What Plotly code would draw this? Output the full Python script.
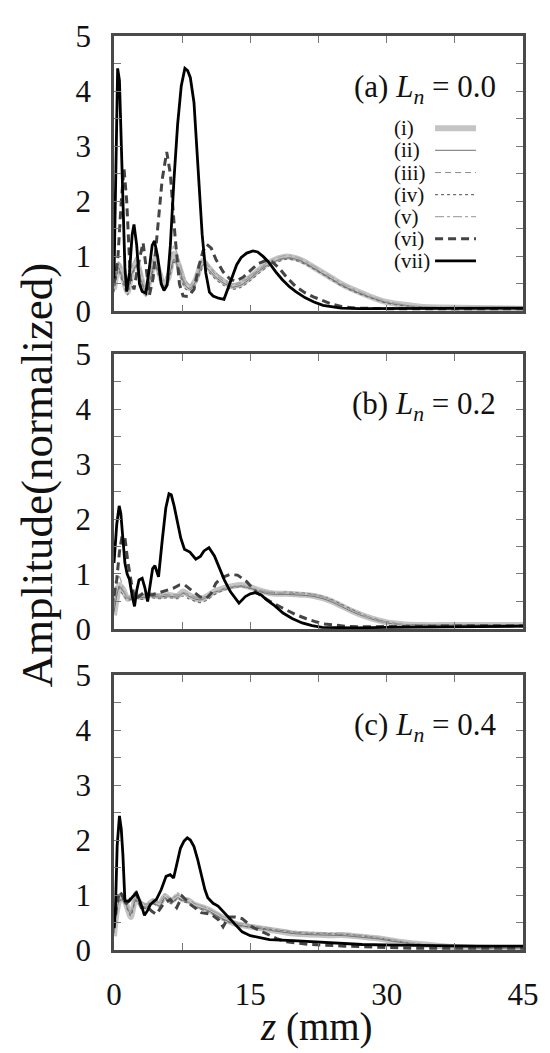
import plotly.graph_objects as go

# ---------------- data ----------------
# panel (a) L_n = 0.0
zA_g = [0, 0.5, 1, 1.5, 2, 2.5, 3, 3.5, 4, 4.5, 5, 5.5, 6, 6.6, 7.2, 7.8, 8.4, 9, 9.8, 10.5, 11.2, 12, 13, 14, 15, 16,
        17, 18, 19, 20, 21, 22, 23, 24, 25, 26, 27, 28, 29, 30, 31, 32, 33, 34, 36, 40, 45]
A1 = [0.40, 0.85, 0.60, 0.35, 0.75, 0.90, 0.60, 0.32, 0.62, 0.95, 0.70, 0.45, 0.62, 1.05, 0.80, 0.50, 0.42, 0.58, 0.92,
      0.78, 0.65, 0.55, 0.46, 0.50, 0.62, 0.76, 0.88, 0.96, 1.00, 0.97, 0.90, 0.80, 0.70, 0.60, 0.50, 0.42, 0.35, 0.28,
      0.22, 0.17, 0.14, 0.12, 0.10, 0.08, 0.07, 0.06, 0.05]
A2 = [0.45, 0.80, 0.55, 0.38, 0.70, 0.85, 0.55, 0.35, 0.60, 0.88, 0.66, 0.42, 0.58, 0.95, 0.75, 0.48, 0.40, 0.55, 0.85,
      0.74, 0.62, 0.52, 0.44, 0.48, 0.60, 0.74, 0.85, 0.93, 0.97, 0.95, 0.88, 0.78, 0.68, 0.58, 0.48, 0.40, 0.33, 0.27,
      0.21, 0.16, 0.13, 0.11, 0.09, 0.08, 0.07, 0.06, 0.05]
A3 = [0.50, 0.78, 0.62, 0.40, 0.72, 0.82, 0.58, 0.38, 0.64, 0.85, 0.68, 0.46, 0.60, 0.92, 0.78, 0.52, 0.43, 0.57, 0.88,
      0.80, 0.66, 0.56, 0.47, 0.52, 0.63, 0.77, 0.87, 0.94, 0.98, 0.96, 0.89, 0.79, 0.69, 0.59, 0.49, 0.41, 0.34, 0.27,
      0.21, 0.16, 0.13, 0.11, 0.09, 0.08, 0.07, 0.06, 0.05]
A4 = [0.35, 0.75, 0.50, 0.30, 0.68, 0.80, 0.50, 0.28, 0.55, 0.85, 0.60, 0.38, 0.55, 0.90, 0.70, 0.42, 0.36, 0.50, 0.80,
      0.70, 0.58, 0.48, 0.40, 0.44, 0.56, 0.70, 0.82, 0.90, 0.95, 0.93, 0.86, 0.77, 0.67, 0.57, 0.47, 0.39, 0.32, 0.26,
      0.20, 0.15, 0.12, 0.10, 0.09, 0.07, 0.06, 0.05, 0.04]
A5 = [0.55, 0.90, 0.70, 0.45, 0.80, 1.00, 0.72, 0.42, 0.70, 1.05, 0.80, 0.55, 0.75, 1.20, 0.90, 0.58, 0.48, 0.62, 0.95,
      0.82, 0.70, 0.60, 0.50, 0.54, 0.65, 0.78, 0.90, 0.98, 1.02, 0.99, 0.92, 0.82, 0.72, 0.62, 0.52, 0.44, 0.36, 0.29,
      0.23, 0.18, 0.15, 0.12, 0.10, 0.09, 0.08, 0.07, 0.06]
zA6 = [0, 0.4, 0.8, 1.1, 1.4, 1.8, 2.2, 2.6, 3.2, 3.6, 3.9, 4.3, 4.8, 5.3, 5.8, 6.2, 6.7, 7.2, 7.6, 8.2, 8.8, 9.3, 9.8,
       10.2, 10.7, 11.2, 12.0, 12.8, 13.4, 14.2, 15.0, 15.8, 16.6, 17.4, 18.2, 19.0, 20.0, 21.0, 22.0, 23.0, 24.0, 25.0,
       26.5, 30, 35, 40, 45]
A6 = [0.50, 0.90, 2.00, 2.60, 2.00, 0.60, 0.40, 0.80, 1.25, 0.70, 0.30, 0.60, 1.50, 2.40, 2.90, 2.50, 1.40, 0.50, 0.28,
      0.27, 0.40, 0.80, 1.10, 1.22, 1.15, 0.95, 0.72, 0.58, 0.55, 0.62, 0.74, 0.86, 0.92, 0.90, 0.78, 0.62, 0.45, 0.34,
      0.26, 0.19, 0.13, 0.09, 0.06, 0.05, 0.05, 0.05, 0.05]
zA7 = [0, 0.2, 0.4, 0.6, 0.9, 1.2, 1.4, 1.7, 2.0, 2.2, 2.5, 2.8, 3.1, 3.5, 3.9, 4.2, 4.45, 4.8, 5.2, 5.5, 5.85, 6.2,
       6.6, 7.0, 7.4, 7.8, 8.1, 8.4, 8.8, 9.3, 9.7, 10.1, 10.5, 10.9, 11.5, 12.1, 12.5, 13.0, 13.5, 14.0, 14.6, 15.3,
       15.8, 16.4, 17.0, 17.8, 18.5, 19.3, 20.0, 21.0, 22.0, 23.0, 24.0, 25.0, 27.0, 30.0, 35.0, 40.0, 45.0]
A7 = [0.60, 3.00, 4.42, 4.20, 2.50, 0.80, 0.36, 0.70, 1.40, 1.58, 1.20, 0.50, 0.36, 0.33, 0.80, 1.20, 1.28, 1.00, 0.50,
      0.38, 0.48, 1.20, 2.40, 3.40, 4.10, 4.42, 4.38, 4.25, 3.80, 2.40, 1.40, 0.70, 0.35, 0.28, 0.24, 0.22, 0.40, 0.65,
      0.85, 0.98, 1.06, 1.10, 1.08, 1.00, 0.90, 0.72, 0.58, 0.45, 0.36, 0.25, 0.17, 0.11, 0.08, 0.06, 0.05, 0.05, 0.06,
      0.06, 0.06]

# panel (b) L_n = 0.2
zB_g = [0, 0.3, 0.6, 1.0, 1.5, 2.0, 2.5, 3.0, 3.5, 4.0, 5.0, 6.0, 7.0, 7.6, 8.2, 9.0, 9.6, 10.3, 11.0, 12.0, 13.0, 14.0,
        15.0, 16.0, 17.0, 18.0, 19.0, 20.0, 21.0, 22.0, 23.0, 24.0, 25.0, 26.0, 27.0, 28.0, 29.0, 30.0, 31.0, 32.0,
        34.0, 36.0, 40.0, 45.0]
B1 = [0.25, 0.55, 0.80, 0.72, 0.55, 0.58, 0.60, 0.58, 0.60, 0.62, 0.60, 0.62, 0.60, 0.68, 0.62, 0.55, 0.55, 0.60, 0.68,
      0.74, 0.78, 0.80, 0.76, 0.70, 0.66, 0.64, 0.64, 0.63, 0.62, 0.60, 0.56, 0.50, 0.42, 0.34, 0.27, 0.21, 0.16, 0.12,
      0.10, 0.08, 0.07, 0.07, 0.07, 0.07]
B2 = [0.30, 0.60, 0.78, 0.70, 0.56, 0.57, 0.58, 0.57, 0.58, 0.60, 0.58, 0.60, 0.58, 0.65, 0.60, 0.54, 0.53, 0.58, 0.66,
      0.72, 0.76, 0.78, 0.74, 0.68, 0.64, 0.63, 0.63, 0.62, 0.61, 0.59, 0.55, 0.49, 0.41, 0.33, 0.26, 0.20, 0.15, 0.11,
      0.09, 0.08, 0.07, 0.07, 0.07, 0.07]
B3 = [0.40, 0.65, 0.76, 0.68, 0.58, 0.60, 0.62, 0.60, 0.62, 0.64, 0.62, 0.63, 0.62, 0.66, 0.63, 0.58, 0.57, 0.60, 0.67,
      0.73, 0.77, 0.79, 0.75, 0.70, 0.67, 0.65, 0.65, 0.64, 0.64, 0.62, 0.58, 0.52, 0.44, 0.36, 0.29, 0.22, 0.17, 0.13,
      0.10, 0.08, 0.07, 0.07, 0.07, 0.07]
B4 = [0.50, 0.85, 0.72, 0.62, 0.52, 0.55, 0.56, 0.54, 0.55, 0.57, 0.55, 0.57, 0.55, 0.60, 0.55, 0.50, 0.48, 0.53, 0.62,
      0.70, 0.75, 0.77, 0.74, 0.70, 0.67, 0.66, 0.67, 0.66, 0.65, 0.63, 0.59, 0.53, 0.45, 0.37, 0.29, 0.22, 0.17, 0.13,
      0.10, 0.08, 0.07, 0.07, 0.07, 0.07]
B5 = [0.60, 0.90, 0.95, 0.75, 0.58, 0.60, 0.62, 0.60, 0.61, 0.63, 0.61, 0.62, 0.61, 0.66, 0.61, 0.56, 0.55, 0.59, 0.66,
      0.72, 0.77, 0.79, 0.76, 0.71, 0.68, 0.66, 0.66, 0.65, 0.64, 0.62, 0.58, 0.51, 0.43, 0.35, 0.28, 0.21, 0.16, 0.12,
      0.10, 0.08, 0.07, 0.07, 0.07, 0.07]
zB6 = [0, 0.3, 0.6, 0.9, 1.2, 1.5, 1.9, 2.3, 2.8, 3.2, 4.2, 5.0, 5.7, 6.5, 7.2, 7.8, 8.4, 8.9, 9.5, 10.2, 10.7, 11.2,
       11.8, 12.7, 13.6, 14.6, 15.7, 16.6, 17.5, 18.8, 20.0, 21.1, 22.2, 23.2, 24.3, 25.5, 27, 30, 35, 40, 45]
B6 = [0.60, 0.90, 1.40, 1.70, 1.66, 1.25, 0.85, 0.53, 0.60, 0.65, 0.62, 0.66, 0.70, 0.74, 0.80, 0.80, 0.72, 0.66, 0.58,
      0.56, 0.65, 0.83, 0.93, 0.99, 0.98, 0.86, 0.66, 0.56, 0.47, 0.36, 0.26, 0.19, 0.13, 0.09, 0.07, 0.05, 0.04, 0.04,
      0.05, 0.06, 0.06]
zB7 = [0, 0.3, 0.57, 0.75, 1.0, 1.2, 1.45, 1.7, 2.0, 2.26, 2.5, 2.75, 3.1, 3.4, 3.7, 4.0, 4.25, 4.5, 4.9, 5.3, 5.7,
       6.05, 6.3, 6.6, 6.95, 7.35, 7.75, 8.35, 9.0, 9.5, 9.9, 10.45, 11.05, 11.6, 12.15, 12.8, 13.75, 14.45, 15.0,
       15.55, 16.2, 16.8, 17.7, 18.6, 19.6, 20.7, 21.8, 22.9, 24.5, 26.5, 30, 35, 40, 45]
B7 = [1.20, 1.90, 2.24, 2.10, 1.60, 1.20, 1.00, 0.90, 0.60, 0.41, 0.70, 0.89, 0.92, 0.75, 0.50, 0.80, 1.10, 1.15, 0.95,
      1.60, 2.20, 2.46, 2.44, 2.25, 1.96, 1.65, 1.45, 1.40, 1.27, 1.32, 1.42, 1.48, 1.33, 1.10, 0.89, 0.68, 0.47, 0.59,
      0.64, 0.66, 0.62, 0.53, 0.42, 0.29, 0.19, 0.11, 0.06, 0.03, 0.02, 0.02, 0.03, 0.04, 0.05, 0.05]

# panel (c) L_n = 0.4
zC_g = [0, 0.3, 0.7, 1.2, 1.85, 2.4, 3.0, 3.6, 4.3, 5.0, 5.6, 6.3, 7.0, 7.6, 8.2, 8.8, 10.3, 11.8, 13.3, 14.8, 17.1,
        19.7, 21.5, 23.5, 25.4, 27.3, 29.2, 31.0, 32.9, 34.8, 36.7, 40, 45]
C1 = [0.25, 0.70, 0.95, 0.89, 0.60, 0.95, 0.83, 0.80, 0.89, 0.83, 0.98, 0.89, 0.98, 0.92, 0.90, 0.83, 0.74, 0.60, 0.48,
      0.43, 0.37, 0.30, 0.28, 0.27, 0.27, 0.24, 0.21, 0.16, 0.12, 0.09, 0.06, 0.04, 0.03]
C2 = [0.30, 0.75, 0.92, 0.86, 0.65, 0.92, 0.80, 0.78, 0.86, 0.80, 0.95, 0.86, 0.95, 0.90, 0.87, 0.80, 0.72, 0.58, 0.47,
      0.42, 0.36, 0.30, 0.28, 0.27, 0.26, 0.23, 0.20, 0.15, 0.11, 0.08, 0.06, 0.04, 0.03]
C3 = [0.40, 0.85, 0.98, 0.90, 0.70, 0.98, 0.86, 0.82, 0.90, 0.85, 1.00, 0.90, 1.00, 0.94, 0.92, 0.85, 0.76, 0.62, 0.50,
      0.45, 0.39, 0.32, 0.30, 0.29, 0.28, 0.25, 0.22, 0.17, 0.12, 0.09, 0.06, 0.04, 0.03]
C4 = [0.50, 0.90, 0.90, 0.84, 0.62, 0.90, 0.78, 0.75, 0.84, 0.78, 0.94, 0.84, 0.94, 0.88, 0.85, 0.78, 0.70, 0.57, 0.46,
      0.42, 0.38, 0.33, 0.31, 0.30, 0.29, 0.26, 0.22, 0.17, 0.12, 0.09, 0.06, 0.04, 0.03]
C5 = [0.60, 0.95, 1.00, 0.92, 0.68, 1.00, 0.88, 0.84, 0.92, 0.86, 1.02, 0.92, 1.04, 0.95, 0.93, 0.86, 0.76, 0.63, 0.51,
      0.46, 0.40, 0.34, 0.32, 0.31, 0.30, 0.27, 0.23, 0.18, 0.13, 0.10, 0.07, 0.05, 0.04]
zC6 = [0, 0.3, 0.6, 0.9, 1.28, 1.8, 2.4, 3.0, 3.73, 4.2, 4.67, 5.4, 6.2, 6.9, 7.5, 8.4, 9.6, 10.7, 11.5, 12.0, 12.6,
       13.3, 14.1, 15.2, 16.2, 17.1, 18.0, 19.0, 20.3, 21.6, 25.4, 29.2, 33, 38, 45]
C6 = [0.40, 0.80, 1.07, 1.00, 0.83, 0.92, 1.04, 0.77, 0.77, 0.70, 0.65, 0.83, 0.92, 0.77, 0.98, 0.83, 0.68, 0.65, 0.55,
      0.42, 0.60, 0.60, 0.57, 0.42, 0.34, 0.27, 0.20, 0.15, 0.12, 0.10, 0.07, 0.05, 0.03, 0.03, 0.03]
zC7 = [0, 0.15, 0.35, 0.6, 0.8, 0.98, 1.2, 1.66, 2.1, 2.49, 2.98, 3.35, 3.7, 4.0, 4.67, 5.2, 5.73, 6.18, 6.56, 6.9,
       7.31, 7.7, 8.06, 8.4, 8.8, 9.2, 9.57, 10.0, 10.32, 10.9, 11.45, 12.0, 12.58, 13.3, 14.1, 15.0, 15.6, 17.1, 19.7,
       23.5, 27.3, 31, 34.8, 40, 45]
C7 = [0.40, 0.70, 1.90, 2.44, 2.20, 1.73, 0.89, 0.89, 0.98, 1.04, 0.83, 0.63, 0.72, 0.83, 0.92, 1.10, 1.34, 1.37, 1.31,
      1.55, 1.85, 1.98, 2.04, 2.00, 1.88, 1.65, 1.37, 1.10, 0.95, 0.85, 0.80, 0.70, 0.60, 0.46, 0.33, 0.26, 0.24, 0.19,
      0.17, 0.13, 0.10, 0.09, 0.08, 0.07, 0.07]

series_names = ["(i)", "(ii)", "(iii)", "(iv)", "(v)", "(vi)", "(vii)"]
panel_labels = ["(a) <i>L</i><sub><i>n</i></sub> = 0.0",
                "(b) <i>L</i><sub><i>n</i></sub> = 0.2",
                "(c) <i>L</i><sub><i>n</i></sub> = 0.4"]

panels = [
    ([zA_g] * 5 + [zA6, zA7], [A1, A2, A3, A4, A5, A6, A7]),
    ([zB_g] * 5 + [zB6, zB7], [B1, B2, B3, B4, B5, B6, B7]),
    ([zC_g] * 5 + [zC6, zC7], [C1, C2, C3, C4, C5, C6, C7]),
]

# ---------------- styles ----------------
styles = [
    dict(color="#c4c4c4", width=6, dash="solid"),
    dict(color="#6e6e6e", width=1, dash="solid"),
    dict(color="#8a8a8a", width=1, dash="6px,4px"),
    dict(color="#707070", width=1.2, dash="dot"),
    dict(color="#a8a8a8", width=1.3, dash="dashdot"),
    dict(color="#444444", width=3, dash="8px,5px"),
    dict(color="#000000", width=2.8, dash="solid"),
]
FONT = "Liberation Serif"

# the page body has an 8px default margin, so the figure is shrunk by that
# amount and all target positions below are given in page pixels
OFF = 8
PAGE_W, PAGE_H = 550, 1053
W, H = PAGE_W - OFF, PAGE_H - OFF
LEFT, RIGHT, TOP, BOTTOM = 114, 532, 19, 950          # plot area in page pixels
ML, MT = LEFT - OFF, TOP - OFF
MR, MB = W - (RIGHT - OFF), H - (BOTTOM - OFF)

def ypaper(px):
    return (BOTTOM - px) / (BOTTOM - TOP)
def xpaper(px):
    return (px - LEFT) / (RIGHT - LEFT)

domains = [[ypaper(299.5), ypaper(19.5)], [ypaper(623), ypaper(343)], [ypaper(950), ypaper(670)]]

fig = go.Figure()
for p, (zs, vals) in enumerate(panels):
    ax = "" if p == 0 else str(p + 1)
    for s in range(7):
        fig.add_trace(go.Scatter(
            x=zs[s], y=vals[s], mode="lines", name=series_names[s],
            line=dict(color=styles[s]["color"], width=styles[s]["width"], dash=styles[s]["dash"],
                      shape="spline" if s < 5 else "linear", smoothing=0.6),
            xaxis="x" + ax, yaxis="y" + ax, showlegend=False, hoverinfo="skip"))

axis_common = dict(showline=True, linewidth=2.5, linecolor="#4a4a4a", mirror="ticks",
                   ticks="inside", ticklen=7, tickwidth=1, tickcolor="#777777",
                   showgrid=False, zeroline=False,
                   tickfont=dict(family=FONT, size=31, color="#111111"))

layout = dict(width=W, height=H, margin=dict(l=ML, r=MR, t=MT, b=MB),
              paper_bgcolor="white", plot_bgcolor="white", showlegend=False,
              font=dict(family=FONT, color="#111111"))
for p in range(3):
    ax = "" if p == 0 else str(p + 1)
    layout["xaxis" + ax] = dict(axis_common, range=[0, 45], tick0=0, dtick=15,
                                minor=dict(dtick=7.5, ticks="inside", ticklen=7, tickcolor="#777777", showgrid=False),
                                showticklabels=(p == 2), anchor="y" + ax, domain=[0, 1],
                                ticklabelstandoff=15)
    layout["yaxis" + ax] = dict(axis_common, range=[0, 5], tick0=0, dtick=1,
                                minor=dict(dtick=0.5, ticks="inside", ticklen=7, tickcolor="#777777", showgrid=False),
                                anchor="x" + ax, domain=domains[p], ticklabelstandoff=14)
fig.update_layout(**layout)

annotations = []
for p in range(3):
    ax = "" if p == 0 else str(p + 1)
    annotations.append(dict(text=panel_labels[p], x=42.2, y=4.05, xref="x" + ax, yref="y" + ax,
                            xanchor="right", yanchor="middle", showarrow=False,
                            font=dict(family=FONT, size=31, color="#111111")))
# y-axis title
annotations.append(dict(text="Amplitude(normalized)", textangle=-90, x=xpaper(35), y=ypaper(466),
                        xref="paper", yref="paper", xanchor="center", yanchor="middle", showarrow=False,
                        font=dict(family=FONT, size=45, color="#111111")))
# x-axis title
annotations.append(dict(text="<i>z</i> (mm)", x=xpaper(321), y=ypaper(1028), xref="paper", yref="paper",
                        xanchor="center", yanchor="middle", showarrow=False,
                        font=dict(family=FONT, size=39, color="#111111")))

# custom legend in panel (a): label on the left, line sample on the right
leg_rows = [0.666, 0.586, 0.505, 0.425, 0.345, 0.264, 0.184]
shapes = []
for s in range(7):
    annotations.append(dict(text=series_names[s], x=0.68, y=leg_rows[s], xref="x domain", yref="y domain",
                            xanchor="left", yanchor="middle", showarrow=False,
                            font=dict(family=FONT, size=21, color="#111111")))
    shapes.append(dict(type="line", x0=0.785, x1=0.885, y0=leg_rows[s], y1=leg_rows[s],
                       xref="x domain", yref="y domain",
                       line=dict(color=styles[s]["color"], width=styles[s]["width"], dash=styles[s]["dash"])))

fig.update_layout(annotations=annotations, shapes=shapes)
fig.write_html("out.html")
